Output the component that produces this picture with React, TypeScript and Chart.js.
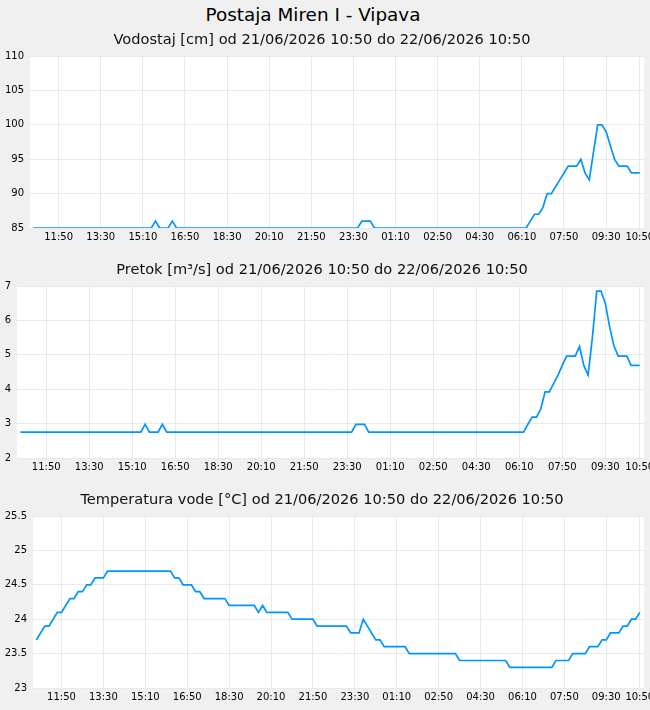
import React, { useEffect, useRef } from "react";
import { Chart, registerables } from "chart.js";

Chart.register(...registerables);

const FONT = "'DejaVu Sans', sans-serif";
const LINE_COLOR = "#0095ff";
const GRID_COLOR = "#e9e9e9";
const BG = "#f0f0f0";

const mainTitle = "Postaja Miren I - Vipava";
const levelTitle = "Vodostaj [cm] od 21/06/2026 10:50 do 22/06/2026 10:50";
const flowTitle = "Pretok [m³/s] od 21/06/2026 10:50 do 22/06/2026 10:50";
const tempTitle = "Temperatura vode [°C] od 21/06/2026 10:50 do 22/06/2026 10:50";

const xTickLabels = ["11:50", "13:30", "15:10", "16:50", "18:30", "20:10", "21:50", "23:30", "01:10", "02:50", "04:30", "06:10", "07:50", "09:30", "10:50"];

// Water level / flow sample times (points where the curve changes)
const hydroTimes = ["10:50", "15:30", "15:40", "15:50", "16:10", "16:20", "16:30", "23:40", "23:50", "00:10", "00:20", "06:20", "06:30", "06:40", "06:50", "07:00", "07:10", "07:20", "07:30", "07:40", "07:50", "08:00", "08:20", "08:30", "08:40", "08:50", "09:00", "09:10", "09:20", "09:30", "09:40", "09:50", "10:00", "10:20", "10:30", "10:50"];
const levelValues = [85, 85, 86, 85, 85, 86, 85, 85, 86, 86, 85, 85, 86, 87, 87, 88, 90, 90, 91, 92, 93, 94, 94, 95, 93, 92, 96, 100, 100, 99, 97, 95, 94, 94, 93, 93];
const flowValues = [2.75, 2.75, 2.98, 2.75, 2.75, 2.98, 2.75, 2.75, 2.98, 2.98, 2.75, 2.75, 2.98, 3.19, 3.19, 3.43, 3.92, 3.92, 4.17, 4.41, 4.69, 4.96, 4.96, 5.24, 4.69, 4.41, 5.5, 6.85, 6.85, 6.5, 5.82, 5.26, 4.96, 4.96, 4.69, 4.69];

const tempTimes = ["10:50", "11:00", "11:10", "11:20", "11:30", "11:40", "11:50", "12:00", "12:10", "12:20", "12:30", "12:40", "12:50", "13:00", "13:10", "13:30", "13:40", "16:10", "16:20", "16:30", "16:40", "17:00", "17:10", "17:20", "17:30", "18:20", "18:30", "19:30", "19:40", "19:50", "20:00", "20:50", "21:00", "21:50", "22:00", "23:10", "23:20", "23:40", "23:50", "00:00", "00:10", "00:20", "00:30", "00:40", "01:30", "01:40", "03:30", "03:40", "05:30", "05:40", "07:20", "07:30", "08:00", "08:10", "08:40", "08:50", "09:10", "09:20", "09:30", "09:40", "10:00", "10:10", "10:20", "10:30", "10:40", "10:50"];
const tempValues = [23.7, 23.8, 23.9, 23.9, 24.0, 24.1, 24.1, 24.2, 24.3, 24.3, 24.4, 24.4, 24.5, 24.5, 24.6, 24.6, 24.7, 24.7, 24.6, 24.6, 24.5, 24.5, 24.4, 24.4, 24.3, 24.3, 24.2, 24.2, 24.1, 24.2, 24.1, 24.1, 24.0, 24.0, 23.9, 23.9, 23.8, 23.8, 24.0, 23.9, 23.8, 23.7, 23.7, 23.6, 23.6, 23.5, 23.5, 23.4, 23.4, 23.3, 23.3, 23.4, 23.4, 23.5, 23.5, 23.6, 23.6, 23.7, 23.7, 23.8, 23.8, 23.9, 23.9, 24.0, 24.0, 24.1];

const START_MIN = 10 * 60 + 50;

function toMinutes(list: string[]): number[] {
  const out: number[] = [];
  list.forEach((t, i) => {
    const [h, m] = t.split(":").map(Number);
    let v = (h * 60 + m - START_MIN + 1440) % 1440;
    while (i > 0 && v <= out[i - 1]) v += 1440;
    out.push(v);
  });
  return out;
}

function fmt(v: number): string {
  const t = ((START_MIN + Math.round(v)) % 1440 + 1440) % 1440;
  const h = Math.floor(t / 60);
  const m = t % 60;
  return String(h).padStart(2, "0") + ":" + String(m).padStart(2, "0");
}

const bgPlugin = {
  id: "plotBg",
  beforeDraw(chart: any) {
    const { ctx, chartArea } = chart;
    ctx.save();
    ctx.fillStyle = "#ffffff";
    ctx.fillRect(chartArea.left, chartArea.top, chartArea.right - chartArea.left, chartArea.bottom - chartArea.top);
    ctx.restore();
  },
};

type Props = {
  top: number;
  height: number;
  yWidth: number;
  title: string;
  times: string[];
  values: number[];
  yMin: number;
  yMax: number;
  yStep: number;
};

function LineChart({ top, height, yWidth, title, times, values, yMin, yMax, yStep }: Props) {
  const ref = useRef<HTMLCanvasElement>(null);
  useEffect(() => {
    const xs = toMinutes(times);
    const data = xs.map((x, i) => ({ x, y: values[i] }));
    const tickVals = toMinutes(xTickLabels);
    const chart = new Chart(ref.current as HTMLCanvasElement, {
      type: "line",
      data: {
        datasets: [
          {
            data,
            borderColor: LINE_COLOR,
            borderWidth: 1.7,
            pointRadius: 0,
            fill: false,
            tension: 0,
          },
        ],
      },
      options: {
        animation: false,
        responsive: false,
        maintainAspectRatio: false,
        layout: { padding: { left: 0, right: 6, top: 0, bottom: 4 } },
        plugins: {
          legend: { display: false },
          tooltip: { enabled: false },
          title: {
            display: true,
            text: title,
            color: "#111",
            font: { family: FONT, size: 14.6, weight: "normal", lineHeight: 1.25 },
            padding: { top: 5, bottom: 6.75 },
          },
        },
        scales: {
          x: {
            type: "linear",
            min: -8,
            max: 1450,
            afterBuildTicks: (s: any) => {
              s.ticks = tickVals.map((v) => ({ value: v }));
            },
            afterFit: (s: any) => {
              s.paddingLeft = 0;
              s.paddingRight = 0;
            },
            ticks: {
              autoSkip: false,
              maxRotation: 0,
              padding: 3,
              color: "#000",
              font: { family: FONT, size: 10 },
              callback: (v: any) => fmt(Number(v)),
            },
            grid: { color: GRID_COLOR, drawTicks: false },
            border: { display: false },
          },
          y: {
            min: yMin,
            max: yMax,
            afterFit: (s: any) => {
              s.width = yWidth;
            },
            ticks: {
              stepSize: yStep,
              padding: 6,
              color: "#000",
              font: { family: FONT, size: 10 },
              callback: (v: any) => String(Math.round(Number(v) * 100) / 100),
            },
            grid: { color: GRID_COLOR, drawTicks: false },
            border: { display: false },
          },
        },
      } as any,
      plugins: [bgPlugin],
    });
    return () => chart.destroy();
  }, []);
  return (
    <canvas
      ref={ref}
      width={650}
      height={height}
      style={{ position: "absolute", left: 0, top, width: 650, height }}
    />
  );
}

export default function App() {
  return (
    <div
      style={{
        position: "absolute",
        left: 0,
        top: 0,
        width: 650,
        height: 710,
        background: BG,
        overflow: "hidden",
        fontFamily: FONT,
      }}
    >
      <div
        style={{
          position: "absolute",
          left: 0,
          top: 5,
          width: 626,
          textAlign: "center",
          fontSize: 18.4,
          lineHeight: "20px",
          color: "#000",
        }}
      >
        {mainTitle}
      </div>
      <LineChart top={26} height={224} yWidth={30} title={levelTitle} times={hydroTimes} values={levelValues} yMin={85} yMax={110} yStep={5} />
      <LineChart top={256} height={224} yWidth={17} title={flowTitle} times={hydroTimes} values={flowValues} yMin={2} yMax={7} yStep={1} />
      <LineChart top={486} height={224} yWidth={33} title={tempTitle} times={tempTimes} values={tempValues} yMin={23} yMax={25.5} yStep={0.5} />
    </div>
  );
}
